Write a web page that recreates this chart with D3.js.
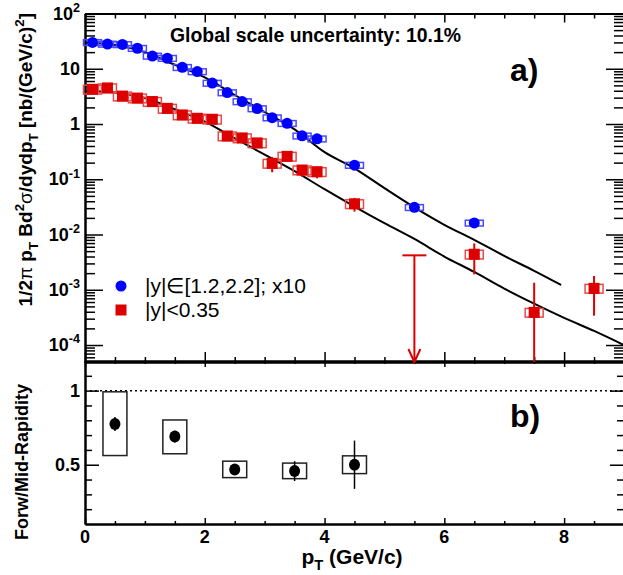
<!DOCTYPE html>
<html>
<head>
<meta charset="utf-8">
<script src="https://d3js.org/d3.v7.min.js"></script>
<style>
body { margin: 0; background: #fff; }
svg { display: block; font-family: "Liberation Sans", Arial, Helvetica, sans-serif; }
</style>
</head>
<body>
<svg id="chart" width="623" height="575"></svg>
<script>
// forward rapidity |y| in [1.2,2.2], values already scaled x10
var fwdPt  = [0.125,0.375,0.625,0.875,1.125,1.375,1.625,1.875,2.125,2.375,2.625,2.875,3.125,3.375,3.625,3.875,4.5,5.5,6.5];
var fwdVal = [30,28,27.5,23.5,17,15.5,10.6,8.9,5.5,3.7,2.55,1.9,1.3,1.03,0.61,0.54,0.18,0.031,0.0162];
var fwdSys = [0.12,0.12,0.12,0.12,0.12,0.12,0.12,0.12,0.12,0.12,0.12,0.12,0.12,0.12,0.12,0.12,0.12,0.12,0.12];

// mid rapidity |y|<0.35
var midPt   = [0.125,0.375,0.625,0.875,1.125,1.375,1.625,1.875,2.125,2.375,2.625,2.875,3.125,3.375,3.625,3.875,4.5,6.5,7.5,8.5];
var midVal  = [4.25,4.5,3.2,2.95,2.55,1.92,1.46,1.27,1.22,0.607,0.56,0.455,0.194,0.26,0.147,0.137,0.036,0.0044,0.00039,0.00106];
var midStat = [0.1,0.1,0.08,0.08,0.07,0.06,0.05,0.05,0.05,0.03,0.03,0.03,0.06,0.05,0.035,0.033,0.01,0.0025,0.00095,0.00072];
var midSys  = [0.18,0.18,0.18,0.18,0.18,0.18,0.18,0.18,0.18,0.18,0.18,0.18,0.18,0.18,0.18,0.18,0.18,0.18,0.18,0.18];
var midLimitPt  = [5.5];
var midLimitVal = [0.0042];

// fit curves
var fitFwdPt = [0.1,0.5,1.0,1.5,2.0,2.5,3.0,3.5,4.0,4.5,5.0,5.5,6.0,6.5,7.0,7.5,7.95];
var fitFwd   = [29.5,27,20,11.8,7.0,3.35,1.64,0.8,0.31,0.158,0.069,0.031,0.015,0.008,0.0041,0.0022,0.00122];
var fitMidPt = [0.05,0.5,1.0,1.5,2.0,2.5,3.0,3.5,4.0,4.5,5.0,5.5,6.0,6.5,7.0,7.5,8.0,8.5,9.0];
var fitMid   = [3.95,3.7,2.95,1.85,1.1,0.55,0.28,0.14,0.066,0.032,0.016,0.0083,0.0040,0.0021,0.00105,0.00056,0.00031,0.00018,0.0001];

// forward / mid ratio
var ratioPt    = [0.5,1.5,2.5,3.5,4.5];
var ratioVal   = [0.775,0.69,0.468,0.457,0.5];
var ratioStat  = [0.047,0.04,0.02,0.067,0.163];
var ratioSysLo = [0.562,0.574,0.413,0.406,0.44];
var ratioSysHi = [0.992,0.802,0.524,0.511,0.56];

// tick values
var xMajor = [0,2,4,6,8];
var xMinor = [0.5,1,1.5,2.5,3,3.5,4.5,5,5.5,6.5,7,7.5,8.5];
var logMajor = [1e-4,1e-3,1e-2,1e-1,1,10,100];
var ratioMajor = [0.5,1];
var ratioMinor = [0.2,0.3,0.4,0.6,0.7,0.8,0.9,1.1];

var svg = d3.select("#chart");
var BLUE = "#0000ff", BLUE_BOX = "#4a4aff", RED = "#dd0000", RED_BOX = "#e84848";

var x = d3.scaleLinear().domain([0,9]).range([85,624]);
var yTop = d3.scaleLog().domain([4.93e-5,100]).range([362,13.5]);
var yBot = d3.scaleLinear().domain([0.1,1.2]).range([524,361]);

//minor ticks of log axis
var logMinor = [];
for (var n = -5; n <= 1; n++)
	for (var k = 2; k <= 9; k++) {
		var v = k * Math.pow(10,n);
		if (v > 4.93e-5 && v < 100) logMinor.push(v);
	}

//helper for rich text with sub/superscripts
function richText(sel, parts, size) {
	var shift = 0;
	parts.forEach(function(p) {
		var target = p.sub ? size*0.3 : (p.sup ? -size*0.42 : 0);
		var ts = sel.append("tspan").text(p.t).attr("dy", target - shift);
		if (p.sub || p.sup) ts.attr("font-size", size*0.7);
		if (p.sym) ts.attr("font-weight", "normal");
		shift = target;
	});
}

function axisGroup(tx, ty, axis) {
	var g = svg.append("g").attr("transform", "translate(" + tx + "," + ty + ")").call(axis);
	g.selectAll("path.domain").attr("stroke", "#000").attr("stroke-width", 2);
	g.selectAll(".tick line").attr("stroke", "#000").attr("stroke-width", 1.5);
	return g;
}

// ---------- top panel frame ----------
axisGroup(85, 0, d3.axisLeft(yTop).tickValues(logMajor).tickSizeInner(-18).tickSizeOuter(0).tickFormat(""));
axisGroup(85, 0, d3.axisLeft(yTop).tickValues(logMinor).tickSizeInner(-10).tickSizeOuter(0).tickFormat(""));
axisGroup(624, 0, d3.axisRight(yTop).tickValues(logMajor).tickSizeInner(-18).tickSizeOuter(0).tickFormat(""));
axisGroup(624, 0, d3.axisRight(yTop).tickValues(logMinor).tickSizeInner(-10).tickSizeOuter(0).tickFormat(""));
axisGroup(0, 13.5, d3.axisTop(x).tickValues(xMajor).tickSizeInner(-9).tickSizeOuter(0).tickFormat(""));
axisGroup(0, 13.5, d3.axisTop(x).tickValues(xMinor).tickSizeInner(-5).tickSizeOuter(0).tickFormat(""));
axisGroup(0, 362, d3.axisBottom(x).tickValues(xMajor).tickSizeInner(-10).tickSizeOuter(0).tickFormat(""));
axisGroup(0, 362, d3.axisBottom(x).tickValues(xMinor).tickSizeInner(-5).tickSizeOuter(0).tickFormat(""));

// ---------- bottom panel frame ----------
axisGroup(0, 361, d3.axisTop(x).tickValues(xMajor).tickSizeInner(-6).tickSizeOuter(0).tickFormat(""));
axisGroup(0, 361, d3.axisTop(x).tickValues(xMinor).tickSizeInner(-3).tickSizeOuter(0).tickFormat(""));
axisGroup(0, 524, d3.axisBottom(x).tickValues(xMajor).tickSizeInner(-6).tickSizeOuter(0).tickFormat(""));
axisGroup(0, 524, d3.axisBottom(x).tickValues(xMinor).tickSizeInner(-3).tickSizeOuter(0).tickFormat(""));
axisGroup(85, 0, d3.axisLeft(yBot).tickValues(ratioMajor).tickSizeInner(-14).tickSizeOuter(0).tickFormat(""));
axisGroup(85, 0, d3.axisLeft(yBot).tickValues(ratioMinor).tickSizeInner(-7).tickSizeOuter(0).tickFormat(""));
axisGroup(624, 0, d3.axisRight(yBot).tickValues(ratioMajor).tickSizeInner(-14).tickSizeOuter(0).tickFormat(""));
axisGroup(624, 0, d3.axisRight(yBot).tickValues(ratioMinor).tickSizeInner(-7).tickSizeOuter(0).tickFormat(""));

// ---------- tick labels ----------
var lab = svg.append("g").attr("font-weight", "bold").attr("font-size", 18).attr("text-anchor", "end");
logMajor.forEach(function(v) {
	var e = Math.round(Math.log10(v));
	var t = lab.append("text").attr("x", 80).attr("y", yTop(v) + 6);
	if (e == 0) t.text("1");
	else if (e == 1) t.text("10");
	else richText(t, [{t:"10"}, {t:String(e), sup:true}], 18);
});
ratioMajor.forEach(function(v) {
	lab.append("text").attr("x", 80).attr("y", yBot(v) + 6).text(v == 1 ? "1" : "0.5");
});
xMajor.forEach(function(v) {
	lab.append("text").attr("x", x(v)).attr("y", 543).attr("text-anchor", "middle").text(v);
});

// ---------- fit curves ----------
var line = d3.line().curve(d3.curveMonotoneX);
svg.append("path")
	.attr("d", line(fitFwdPt.map(function(p,i) { return [x(p), yTop(fitFwd[i])]; })))
	.attr("fill", "none").attr("stroke", "#000").attr("stroke-width", 2);
svg.append("path")
	.attr("d", line(fitMidPt.map(function(p,i) { return [x(p), yTop(fitMid[i])]; })))
	.attr("fill", "none").attr("stroke", "#000").attr("stroke-width", 2);

// ---------- systematic boxes ----------
var boxHalf = 0.15;
function sysBoxes(pts, vals, sys, color) {
	svg.append("g").selectAll("rect").data(pts).enter().append("rect")
		.attr("x", function(p) { return x(p - boxHalf); })
		.attr("width", function(p) { return x(p + boxHalf) - x(p - boxHalf); })
		.attr("y", function(p,i) { return yTop(vals[i]*(1+sys[i])); })
		.attr("height", function(p,i) { return yTop(vals[i]*(1-sys[i])) - yTop(vals[i]*(1+sys[i])); })
		.attr("fill", "none").attr("stroke", color).attr("stroke-width", 1.5);
}
sysBoxes(fwdPt, fwdVal, fwdSys, BLUE_BOX);
sysBoxes(midPt, midVal, midSys, RED_BOX);

// ---------- stat errors of mid rapidity ----------
var ymin = yTop.domain()[0];
svg.append("g").selectAll("line").data(midPt).enter().append("line")
	.attr("x1", function(p) { return x(p); }).attr("x2", function(p) { return x(p); })
	.attr("y1", function(p,i) { return yTop(midVal[i] + midStat[i]); })
	.attr("y2", function(p,i) { return yTop(Math.max(midVal[i] - midStat[i], ymin)); })
	.attr("stroke", RED).attr("stroke-width", 2);

// upper limit with arrow
midLimitPt.forEach(function(p,i) {
	var g = svg.append("g").attr("stroke", RED).attr("stroke-width", 2).attr("fill", "none");
	var yl = yTop(midLimitVal[i]), yb = yTop(ymin);
	g.append("line").attr("x1", x(p-0.2)).attr("x2", x(p+0.2)).attr("y1", yl).attr("y2", yl);
	g.append("line").attr("x1", x(p)).attr("x2", x(p)).attr("y1", yl).attr("y2", yb);
	g.append("path").attr("d", "M" + (x(p)-6) + "," + (yb-13) + "L" + x(p) + "," + yb + "L" + (x(p)+6) + "," + (yb-13));
});

// ---------- markers ----------
svg.append("g").selectAll("circle").data(fwdPt).enter().append("circle")
	.attr("cx", function(p) { return x(p); })
	.attr("cy", function(p,i) { return yTop(fwdVal[i]); })
	.attr("r", 5.5).attr("fill", BLUE);
svg.append("g").selectAll("rect").data(midPt).enter().append("rect")
	.attr("x", function(p) { return x(p) - 5.5; })
	.attr("y", function(p,i) { return yTop(midVal[i]) - 5.5; })
	.attr("width", 11).attr("height", 11).attr("fill", RED);

// ---------- ratio panel ----------
svg.append("line").attr("x1", x(0)).attr("x2", x(9)).attr("y1", yBot(1)).attr("y2", yBot(1))
	.attr("stroke", "#000").attr("stroke-width", 1.5).attr("stroke-dasharray", "2,3");
var rg = svg.append("g");
rg.selectAll("rect").data(ratioPt).enter().append("rect")
	.attr("x", function(p) { return x(p - 0.2); })
	.attr("width", function(p) { return x(p + 0.2) - x(p - 0.2); })
	.attr("y", function(p,i) { return yBot(ratioSysHi[i]); })
	.attr("height", function(p,i) { return yBot(ratioSysLo[i]) - yBot(ratioSysHi[i]); })
	.attr("fill", "none").attr("stroke", "#222").attr("stroke-width", 1.5);
rg.selectAll("line").data(ratioPt).enter().append("line")
	.attr("x1", function(p) { return x(p); }).attr("x2", function(p) { return x(p); })
	.attr("y1", function(p,i) { return yBot(ratioVal[i] + ratioStat[i]); })
	.attr("y2", function(p,i) { return yBot(ratioVal[i] - ratioStat[i]); })
	.attr("stroke", "#000").attr("stroke-width", 1.5);
rg.selectAll("ellipse").data(ratioPt).enter().append("ellipse")
	.attr("cx", function(p) { return x(p); })
	.attr("cy", function(p,i) { return yBot(ratioVal[i]); })
	.attr("rx", 5.5).attr("ry", 6).attr("fill", "#000");

// ---------- legend ----------
svg.append("circle").attr("cx", 121).attr("cy", 286).attr("r", 5.5).attr("fill", BLUE);
svg.append("rect").attr("x", 115.5).attr("y", 304.5).attr("width", 11).attr("height", 11).attr("fill", RED);
svg.append("text").attr("x", 145).attr("y", 293).attr("font-size", 21).text("|y|\u2208[1.2,2.2]; x10");
svg.append("text").attr("x", 145).attr("y", 317).attr("font-size", 21).text("|y|<0.35");

// ---------- annotations and titles ----------
svg.append("text").attr("x", 170).attr("y", 42).attr("font-size", 19.4).attr("font-weight", "bold")
	.text("Global scale uncertainty: 10.1%");
svg.append("text").attr("x", 510).attr("y", 81).attr("font-size", 32).attr("font-weight", "bold").text("a)");
svg.append("text").attr("x", 510).attr("y", 427).attr("font-size", 32).attr("font-weight", "bold").text("b)");

var yt = svg.append("text").attr("transform", "translate(32,13) rotate(-90)")
	.attr("text-anchor", "end").attr("font-size", 19).attr("font-weight", "bold");
richText(yt, [{t:"1/2"}, {t:"\u03c0", sym:true}, {t:" p"}, {t:"T", sub:true}, {t:" Bd"}, {t:"2", sup:true},
	{t:"\u03c3", sym:true}, {t:"/dydp"}, {t:"T", sub:true}, {t:" [nb/(GeV/c)"}, {t:"2", sup:true}, {t:"]"}], 19);

svg.append("text").attr("transform", "translate(28,462) rotate(-90)")
	.attr("text-anchor", "middle").attr("font-size", 18).attr("font-weight", "bold").text("Forw/Mid-Rapidity");

var xt = svg.append("text").attr("x", 352).attr("y", 564).attr("text-anchor", "middle")
	.attr("font-size", 21).attr("font-weight", "bold");
richText(xt, [{t:"p"}, {t:"T", sub:true}, {t:" (GeV/c)"}], 21);
</script>
</body>
</html>
